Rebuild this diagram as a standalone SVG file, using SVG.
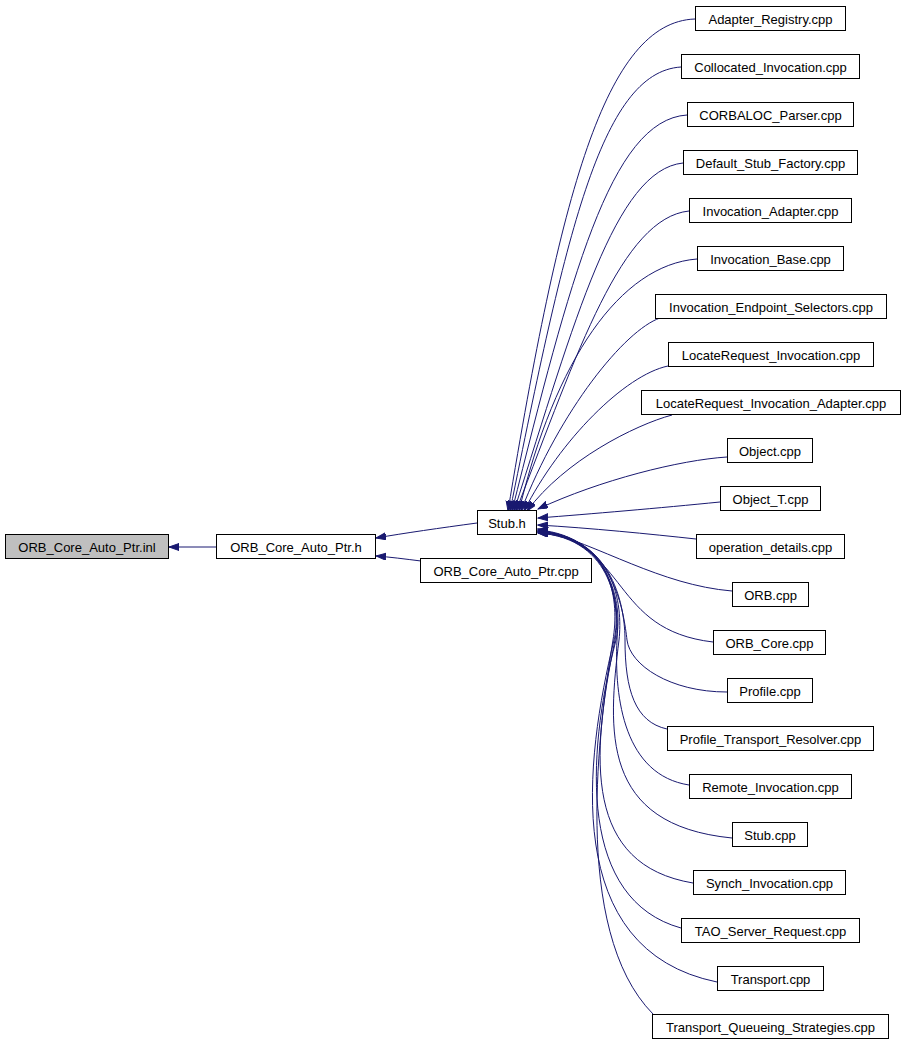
<svg xmlns="http://www.w3.org/2000/svg" width="904" height="1043" viewBox="0 0 904 1043">
<style>
.n rect{fill:#ffffff;stroke:#000000;stroke-width:1}
.n text{font-family:"Liberation Sans",Arial,sans-serif;font-size:13px;fill:#000000;text-anchor:middle}
.e path{fill:none;stroke:#191970;stroke-width:1;marker-end:url(#ah)}
</style>
<defs>
<marker id="ah" markerUnits="userSpaceOnUse" markerWidth="11" markerHeight="8" refX="10" refY="3.5" orient="auto">
<path d="M0,0 L10,3.5 L0,7 z" fill="#191970" stroke="#191970" stroke-width="1"/>
</marker>
</defs>
<rect x="0" y="0" width="904" height="1043" fill="#ffffff"/>
<g id="connectors" class="e">
<path d="M216,547 L169,547"/>
<path d="M421,561 C405,559 390,557 376,556"/>
<path d="M477,523 C440,528 405,533 376,538"/>
<path d="M695,19 C605,22 560,195 508,511"/>
<path d="M681,67 C600,72 565,240 510,511"/>
<path d="M687,115 C610,120 570,280 512,511"/>
<path d="M683,163 C615,170 575,320 514,511"/>
<path d="M689,211 C622,218 578,350 516,511"/>
<path d="M697,259 C620,265 555,360 519,511"/>
<path d="M660,318 C625,330 560,410 521,511"/>
<path d="M668,366 C625,375 560,440 524,511"/>
<path d="M672,415 C635,425 565,460 527,511"/>
<path d="M727,457 C680,460 600,480 538,509"/>
<path d="M720,502 C660,508 590,514 538,518"/>
<path d="M696,539 C650,534 590,528 538,525"/>
<path d="M732,591 C660,585 600,545 538,529"/>
<path d="M713,642 C610,630 630,545 538,530"/>
<path d="M727,692 C670,692 630,665 627,640 C624,615 615,536 538,530"/>
<path d="M667,729 C635,722 625,690 625,640 C625,610 615,536 538,531"/>
<path d="M689,785 C625,775 614,700 617,640 C619,608 615,536 538,531"/>
<path d="M732,838 C600,825 608,730 619,640 C623,605 615,537 538,532"/>
<path d="M693,883 C585,865 590,760 615,640 C621,610 615,537 538,532"/>
<path d="M681,928 C580,900 585,760 616,640 C623,612 615,537 538,532"/>
<path d="M717,982 C560,950 585,760 614,640 C621,612 615,538 538,533"/>
<path d="M653,1014 C570,930 600,720 613,640 C619,603 615,538 538,533"/>
</g>
<g id="node_inl" class="n"><rect x="5.5" y="534.5" width="163" height="24" style="fill:#bfbfbf"/><text x="87" y="551.5">ORB_Core_Auto_Ptr.inl</text></g>
<g id="node_h" class="n"><rect x="216.5" y="534.5" width="159" height="24"/><text x="296" y="551.5">ORB_Core_Auto_Ptr.h</text></g>
<g id="node_cpp" class="n"><rect x="420.5" y="558.5" width="171" height="24"/><text x="506" y="575.5">ORB_Core_Auto_Ptr.cpp</text></g>
<g id="node_stubh" class="n"><rect x="477.5" y="510.5" width="59" height="24"/><text x="507" y="527.5">Stub.h</text></g>
<g id="n0" class="n"><rect x="695.5" y="6.5" width="150" height="24"/><text x="770.5" y="23.5">Adapter_Registry.cpp</text></g>
<g id="n1" class="n"><rect x="681.5" y="54.5" width="178" height="24"/><text x="770.5" y="71.5">Collocated_Invocation.cpp</text></g>
<g id="n2" class="n"><rect x="687.5" y="102.5" width="166" height="24"/><text x="770.5" y="119.5">CORBALOC_Parser.cpp</text></g>
<g id="n3" class="n"><rect x="683.5" y="150.5" width="174" height="24"/><text x="770.5" y="167.5">Default_Stub_Factory.cpp</text></g>
<g id="n4" class="n"><rect x="689.5" y="198.5" width="162" height="24"/><text x="770.5" y="215.5">Invocation_Adapter.cpp</text></g>
<g id="n5" class="n"><rect x="697.5" y="246.5" width="146" height="24"/><text x="770.5" y="263.5">Invocation_Base.cpp</text></g>
<g id="n6" class="n"><rect x="655.5" y="294.5" width="231" height="24"/><text x="771" y="311.5">Invocation_Endpoint_Selectors.cpp</text></g>
<g id="n7" class="n"><rect x="668.5" y="342.5" width="205" height="24"/><text x="771" y="359.5">LocateRequest_Invocation.cpp</text></g>
<g id="n8" class="n"><rect x="641.5" y="390.5" width="259" height="24"/><text x="771" y="407.5">LocateRequest_Invocation_Adapter.cpp</text></g>
<g id="n9" class="n"><rect x="727.5" y="438.5" width="85" height="24"/><text x="770" y="455.5">Object.cpp</text></g>
<g id="n10" class="n"><rect x="720.5" y="486.5" width="100" height="24"/><text x="770.5" y="503.5">Object_T.cpp</text></g>
<g id="n11" class="n"><rect x="696.5" y="534.5" width="148" height="24"/><text x="770.5" y="551.5">operation_details.cpp</text></g>
<g id="n12" class="n"><rect x="732.5" y="582.5" width="76" height="24"/><text x="770.5" y="599.5">ORB.cpp</text></g>
<g id="n13" class="n"><rect x="713.5" y="630.5" width="112" height="24"/><text x="769.5" y="647.5">ORB_Core.cpp</text></g>
<g id="n14" class="n"><rect x="727.5" y="678.5" width="85" height="24"/><text x="770" y="695.5">Profile.cpp</text></g>
<g id="n15" class="n"><rect x="667.5" y="726.5" width="206" height="24"/><text x="770.5" y="743.5">Profile_Transport_Resolver.cpp</text></g>
<g id="n16" class="n"><rect x="689.5" y="774.5" width="162" height="24"/><text x="770.5" y="791.5">Remote_Invocation.cpp</text></g>
<g id="n17" class="n"><rect x="732.5" y="822.5" width="75" height="24"/><text x="770" y="839.5">Stub.cpp</text></g>
<g id="n18" class="n"><rect x="693.5" y="870.5" width="152" height="24"/><text x="769.5" y="887.5">Synch_Invocation.cpp</text></g>
<g id="n19" class="n"><rect x="681.5" y="918.5" width="178" height="24"/><text x="770.5" y="935.5">TAO_Server_Request.cpp</text></g>
<g id="n20" class="n"><rect x="717.5" y="966.5" width="106" height="24"/><text x="770.5" y="983.5">Transport.cpp</text></g>
<g id="n21" class="n"><rect x="652.5" y="1014.5" width="236" height="24"/><text x="770.5" y="1031.5">Transport_Queueing_Strategies.cpp</text></g>
</svg>
